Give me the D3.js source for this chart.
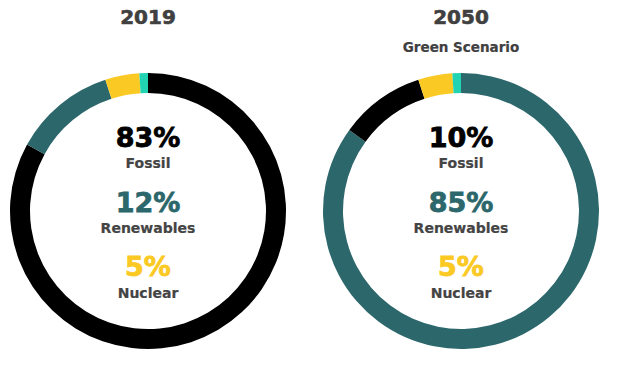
<!DOCTYPE html>
<html>
<head>
<meta charset="utf-8">
<script src="https://cdn.jsdelivr.net/npm/d3@7"></script>
<style>
  body { margin: 0; background: #fff; }
  svg { display: block; }
</style>
</head>
<body>
<div id="chart"></div>
<script>
// chart data
var years = ["2019", "2050"];
var subtitles = ["", "Green Scenario"];
var categories = ["Fossil", "Renewables", "Nuclear"];
var shares2019 = [83, 12, 5];
var shares2050 = [10, 85, 5];
// ring segments, clockwise from the top
var ringKeys2019 = ["Fossil", "Renewables", "Nuclear", "Other"];
var ringValues2019 = [83, 12, 4, 1];
var ringKeys2050 = ["Renewables", "Fossil", "Nuclear", "Other"];
var ringValues2050 = [85, 10, 4, 1];

var colors = { Fossil: "#000000", Renewables: "#2c676b", Nuclear: "#fbc923", Other: "#22d3b3" };

var w = 621, h = 366;
var svg = d3.select("#chart").append("svg").attr("width", w).attr("height", h);

var xPos = d3.scalePoint().domain(years).range([148, 461]);
var cy = 211;
var arc = d3.arc().innerRadius(118).outerRadius(138);
var pie = d3.pie().sort(null).value(function(d){ return d.v; });

var shares = [shares2019, shares2050];
var rings = [
  ringKeys2019.map(function(k, i){ return { k: k, v: ringValues2019[i] }; }),
  ringKeys2050.map(function(k, i){ return { k: k, v: ringValues2050[i] }; })
];

var numFont = "'DejaVu Sans', sans-serif";
// vertical offsets from the centre for value and label lines
var valueDy = [-64, 1, 65];
var labelDy = [-43, 22, 87];

years.forEach(function(year, yi){
  var cx = xPos(year);
  var g = svg.append("g");

  g.append("text")
    .attr("x", cx).attr("y", 24)
    .attr("text-anchor", "middle")
    .style("font-family", numFont).style("font-weight", "bold")
    .style("font-size", "20px").style("fill", "#404040")
    .style("stroke", "#404040").style("stroke-width", 0.6)
    .text(year);

  if (subtitles[yi]) {
    g.append("text")
      .attr("x", cx).attr("y", 52)
      .attr("text-anchor", "middle")
      .style("font-family", numFont).style("font-weight", "bold")
      .style("font-size", "13.5px").style("fill", "#404040")
      .style("stroke", "#404040").style("stroke-width", 0.2)
      .text(subtitles[yi]);
  }

  g.append("g").attr("transform", "translate(" + cx + "," + cy + ")")
    .selectAll("path")
    .data(pie(rings[yi]))
    .enter().append("path")
    .attr("d", arc)
    .attr("fill", function(d){ return colors[d.data.k]; });

  categories.forEach(function(cat, ci){
    g.append("text")
      .attr("x", cx).attr("y", cy + valueDy[ci])
      .attr("text-anchor", "middle")
      .style("font-family", numFont).style("font-weight", "bold")
      .style("font-size", "27px").style("fill", colors[cat])
      .style("stroke", colors[cat]).style("stroke-width", 0.8)
      .text(shares[yi][ci] + "%");

    g.append("text")
      .attr("x", cx).attr("y", cy + labelDy[ci])
      .attr("text-anchor", "middle")
      .style("font-family", numFont).style("font-weight", "bold")
      .style("font-size", "14px").style("fill", "#444444")
      .style("stroke", "#444444").style("stroke-width", 0.2)
      .text(cat);
  });
});
</script>
</body>
</html>
